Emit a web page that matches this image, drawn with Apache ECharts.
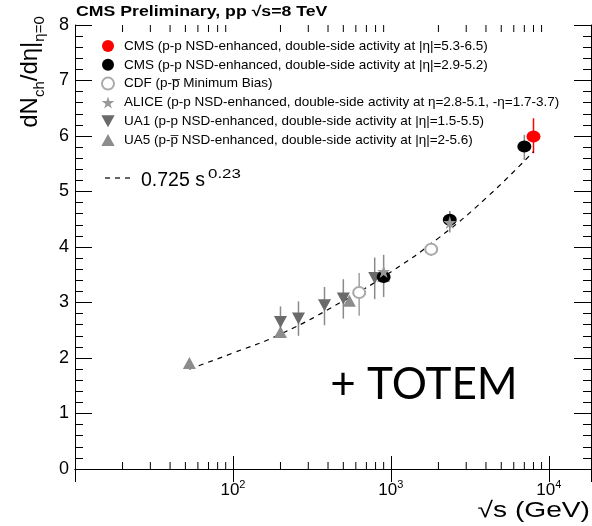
<!DOCTYPE html>
<html><head><meta charset="utf-8">
<script src="https://cdn.jsdelivr.net/npm/echarts@6/dist/echarts.min.js"></script>
<style>html,body{margin:0;padding:0;background:#fff}#c{width:592px;height:526px}</style>
</head><body><div id="c"></div>
<script>
// ---- data ----
const cms8Energy = [8000];
const cms8Value = [5.99];
const cms8ErrUp = [0.33];
const cms8ErrDown = [0.30];

const cmsEnergy = [900, 2360, 7000];
const cmsValue = [3.46, 4.49, 5.81];
const cmsErrUp = [0.12, 0.16, 0.21];
const cmsErrDown = [0.12, 0.16, 0.24];

const cdfEnergy = [630, 1800];
const cdfValue = [3.18, 3.96];
const cdfErrUp = [0.35, 0.12];
const cdfErrDown = [0.42, 0.12];

const aliceEnergy = [900, 2360];
const aliceValue = [3.56, 4.44];
const aliceErrUp = [0.30, 0.18];
const aliceErrDown = [0.46, 0.18];

const ua1Energy = [200, 260, 380, 500, 790];
const ua1Value = [2.65, 2.71, 2.95, 3.07, 3.44];
const ua1ErrUp = [0.28, 0.31, 0.33, 0.35, 0.37];
const ua1ErrDown = [0.28, 0.31, 0.36, 0.36, 0.38];

const ua5Energy = [53, 200, 546, 900];
const ua5Value = [1.91, 2.47, 3.03, 3.48];

const fitEnergy = [53, 100, 200, 500, 1000, 2000, 4000, 8000];
const fitValue = [1.80, 2.09, 2.43, 3.03, 3.55, 4.16, 4.88, 5.72];

const yTicks = [0, 1, 2, 3, 4, 5, 6, 7, 8];
const xMinorTicks = [20, 30, 40, 50, 60, 70, 80, 90, 200, 300, 400, 500, 600, 700, 800, 900,
                     2000, 3000, 4000, 5000, 6000, 7000, 8000, 9000];
const xLabelMap = {100: '2', 1000: '3', 10000: '4'};

const names = [
  'CMS (p-p NSD-enhanced, double-side activity at |η|=5.3-6.5)',
  'CMS (p-p NSD-enhanced, double-side activity at |η|=2.9-5.2)',
  'CDF (p-p\u0305 Minimum Bias)',
  'ALICE (p-p NSD-enhanced, double-side activity at η=2.8-5.1, -η=1.7-3.7)',
  'UA1 (p-p NSD-enhanced, double-side activity at |η|=1.5-5.5)',
  'UA5 (p-p\u0305 NSD-enhanced, double-side activity at |η|=2-5.6)'
];
const fitName = '0.725 s^0.23';

// ---- helpers ----
const FONT = 'Liberation Sans, Arial, Helvetica, sans-serif';
const STAR = 'path://M50,0 L61,35 L98,35 L68,57 L79,91 L50,70 L21,91 L32,57 L2,35 L39,35 Z';
const DOWN = 'path://M0,0 L100,0 L50,90 Z';
const UP = 'path://M50,0 L100,90 L0,90 Z';

function pts(xs, ys) { return xs.map((x, i) => [x, ys[i]]); }
function errSeries(xs, ys, up, dn, color) {
  return {
    type: 'custom', silent: true, z: 2,
    data: xs.map((x, i) => [x, ys[i] - dn[i], ys[i] + up[i]]),
    renderItem: function (params, api) {
      const a = api.coord([api.value(0), api.value(2)]);
      const b = api.coord([api.value(0), api.value(1)]);
      return {type: 'line', shape: {x1: a[0], y1: a[1], x2: b[0], y2: b[1]},
              style: {stroke: color, lineWidth: 1.5}};
    }
  };
}

const axisLine = {show: true, lineStyle: {color: '#000', width: 1}};

const option = {
  backgroundColor: '#fff',
  animation: false,
  grid: {left: 75, right: 1, top: 25, bottom: 57, containLabel: false},
  legend: [{
    orient: 'vertical', left: 96, top: 34, itemWidth: 14, itemHeight: 12, itemGap: 4.8,
    data: names, selectedMode: false,
    textStyle: {fontFamily: FONT, fontSize: 13.5, color: '#000', lineHeight: 14, padding: [0, 0, 0, 4]}
  }],
  xAxis: [{
    type: 'log', logBase: 10, min: 10, max: 18500, position: 'bottom',
    axisLine: axisLine, splitLine: {show: false},
    axisTick: {show: true, inside: true, length: 13, lineStyle: {color: '#000'}},
    axisLabel: {
      show: true, margin: 10, showMinLabel: false, showMaxLabel: false,
      formatter: v => xLabelMap[Math.round(v)] ? '{b|10}{sup|' + xLabelMap[Math.round(v)] + '}' : '',
      rich: {b: {fontFamily: FONT, fontSize: 17, lineHeight: 22, color: '#000'},
             sup: {fontFamily: FONT, fontSize: 11, verticalAlign: 'top', color: '#000'}}
    }
  }, {
    type: 'log', logBase: 10, min: 10, max: 18500, position: 'top',
    axisLine: axisLine, splitLine: {show: false},
    axisTick: {show: true, inside: true, length: 13, lineStyle: {color: '#000'}},
    axisLabel: {show: false}
  }],
  yAxis: [{
    type: 'value', min: yTicks[0], max: yTicks[yTicks.length - 1], interval: 1, position: 'left',
    axisLine: axisLine, splitLine: {show: false},
    axisTick: {show: true, inside: true, length: 17, lineStyle: {color: '#000'}},
    minorTick: {show: true, splitNumber: 5, length: 8, lineStyle: {color: '#000'}},
    axisLabel: {fontFamily: FONT, fontSize: 18, color: '#000', margin: 6}
  }, {
    type: 'value', min: yTicks[0], max: yTicks[yTicks.length - 1], interval: 1, position: 'right',
    axisLine: axisLine, splitLine: {show: false},
    axisTick: {show: true, inside: true, length: 17, lineStyle: {color: '#000'}},
    minorTick: {show: true, splitNumber: 5, length: 8, lineStyle: {color: '#000'}},
    axisLabel: {show: false}
  }],
  series: [
    {
      type: 'custom', silent: true, z: 1,
      data: xMinorTicks.map(v => [v, 0]),
      renderItem: function (params, api) {
        const x = api.coord([api.value(0), 0])[0];
        const cs = params.coordSys;
        return {type: 'group', children: [
          {type: 'line', shape: {x1: x, y1: cs.y + cs.height, x2: x, y2: cs.y + cs.height - 7}, style: {stroke: '#000', lineWidth: 1}},
          {type: 'line', shape: {x1: x, y1: cs.y, x2: x, y2: cs.y + 7}, style: {stroke: '#000', lineWidth: 1}}
        ]};
      }
    },
    {
      name: fitName, type: 'line', data: pts(fitEnergy, fitValue), smooth: true, symbol: 'none', z: 3,
      lineStyle: {color: '#000', width: 1.2, type: [5, 5]}, itemStyle: {color: '#000'}
    },
    errSeries(ua1Energy, ua1Value, ua1ErrUp, ua1ErrDown, '#8a8a8a'),
    errSeries(cdfEnergy, cdfValue, cdfErrUp, cdfErrDown, '#a0a0a0'),
    errSeries(aliceEnergy, aliceValue, aliceErrUp, aliceErrDown, '#8a8a8a'),
    errSeries(cmsEnergy, cmsValue, cmsErrUp, cmsErrDown, '#8a8a8a'),
    errSeries(cms8Energy, cms8Value, cms8ErrUp, cms8ErrDown, '#ff0000'),
    {name: names[5], type: 'scatter', data: pts(ua5Energy, ua5Value), symbol: UP, symbolSize: [13, 12], z: 4,
     itemStyle: {color: '#8c8c8c', opacity: 1}},
    {name: names[4], type: 'scatter', data: pts(ua1Energy, ua1Value), symbol: DOWN, symbolSize: [13, 12], z: 4,
     itemStyle: {color: '#6a6a6a', opacity: 1}},
    {name: names[2], type: 'scatter', data: pts(cdfEnergy, cdfValue), symbol: 'emptyCircle', symbolSize: [12, 11], z: 4,
     itemStyle: {color: '#aaaaaa', borderColor: '#aaaaaa', borderWidth: 0.9, opacity: 1}},
    {name: names[1], type: 'scatter', data: pts(cmsEnergy, cmsValue), symbol: 'circle', symbolSize: [14, 12], z: 5,
     itemStyle: {color: '#000', opacity: 1}},
    {name: names[3], type: 'scatter', data: pts(aliceEnergy, aliceValue), symbol: STAR, symbolSize: [13, 13], z: 6,
     itemStyle: {color: '#999999', opacity: 1}},
    {name: names[0], type: 'scatter', data: pts(cms8Energy, cms8Value), symbol: 'circle', symbolSize: [14, 12], z: 6,
     itemStyle: {color: '#ff0000', opacity: 1}}
  ],
  graphic: [
    {
      type: 'text', x: 76, y: 12, scaleX: 1.22,
      style: {text: 'CMS Preliminary, pp √s=8 TeV', align: 'left', verticalAlign: 'middle',
              font: 'bold 14.5px ' + FONT, fill: '#000'}
    },
    {
      type: 'text', x: 30, y: 72, rotation: Math.PI / 2,
      style: {
        text: '{b|dN}{s|ch}{b|/dη|}{s|η=0}',
        align: 'center', verticalAlign: 'middle',
        rich: {b: {fontFamily: FONT, fontSize: 24, lineHeight: 34, fill: '#000'},
               s: {fontFamily: FONT, fontSize: 15, verticalAlign: 'bottom', fill: '#000'}}
      }
    },
    {
      type: 'line', shape: {x1: 105, y1: 178, x2: 134, y2: 178},
      style: {stroke: '#000', lineWidth: 1.2, lineDash: [5, 5]}
    },
    {
      type: 'text', x: 141, y: 181,
      style: {text: '0.725 s', align: 'left', verticalAlign: 'middle', font: '19.5px ' + FONT, fill: '#000'}
    },
    {
      type: 'text', x: 208, y: 174, scaleX: 1.3,
      style: {text: '0.23', align: 'left', verticalAlign: 'middle', font: '13px ' + FONT, fill: '#000'}
    },
    {
      type: 'text', x: 590, y: 511, scaleX: 1.28,
      style: {text: '√s (GeV)', align: 'right', verticalAlign: 'middle', font: '22px ' + FONT, fill: '#000'}
    },
    {
      type: 'text', x: 424, y: 385,
      style: {text: '+ TOTEM', align: 'center', verticalAlign: 'middle', font: '44px Lato, "Open Sans", sans-serif', fill: '#000'}
    }
  ]
};

const chart = echarts.init(document.getElementById('c'), null, {renderer: 'canvas'});
chart.setOption(option);
</script>
</body></html>
